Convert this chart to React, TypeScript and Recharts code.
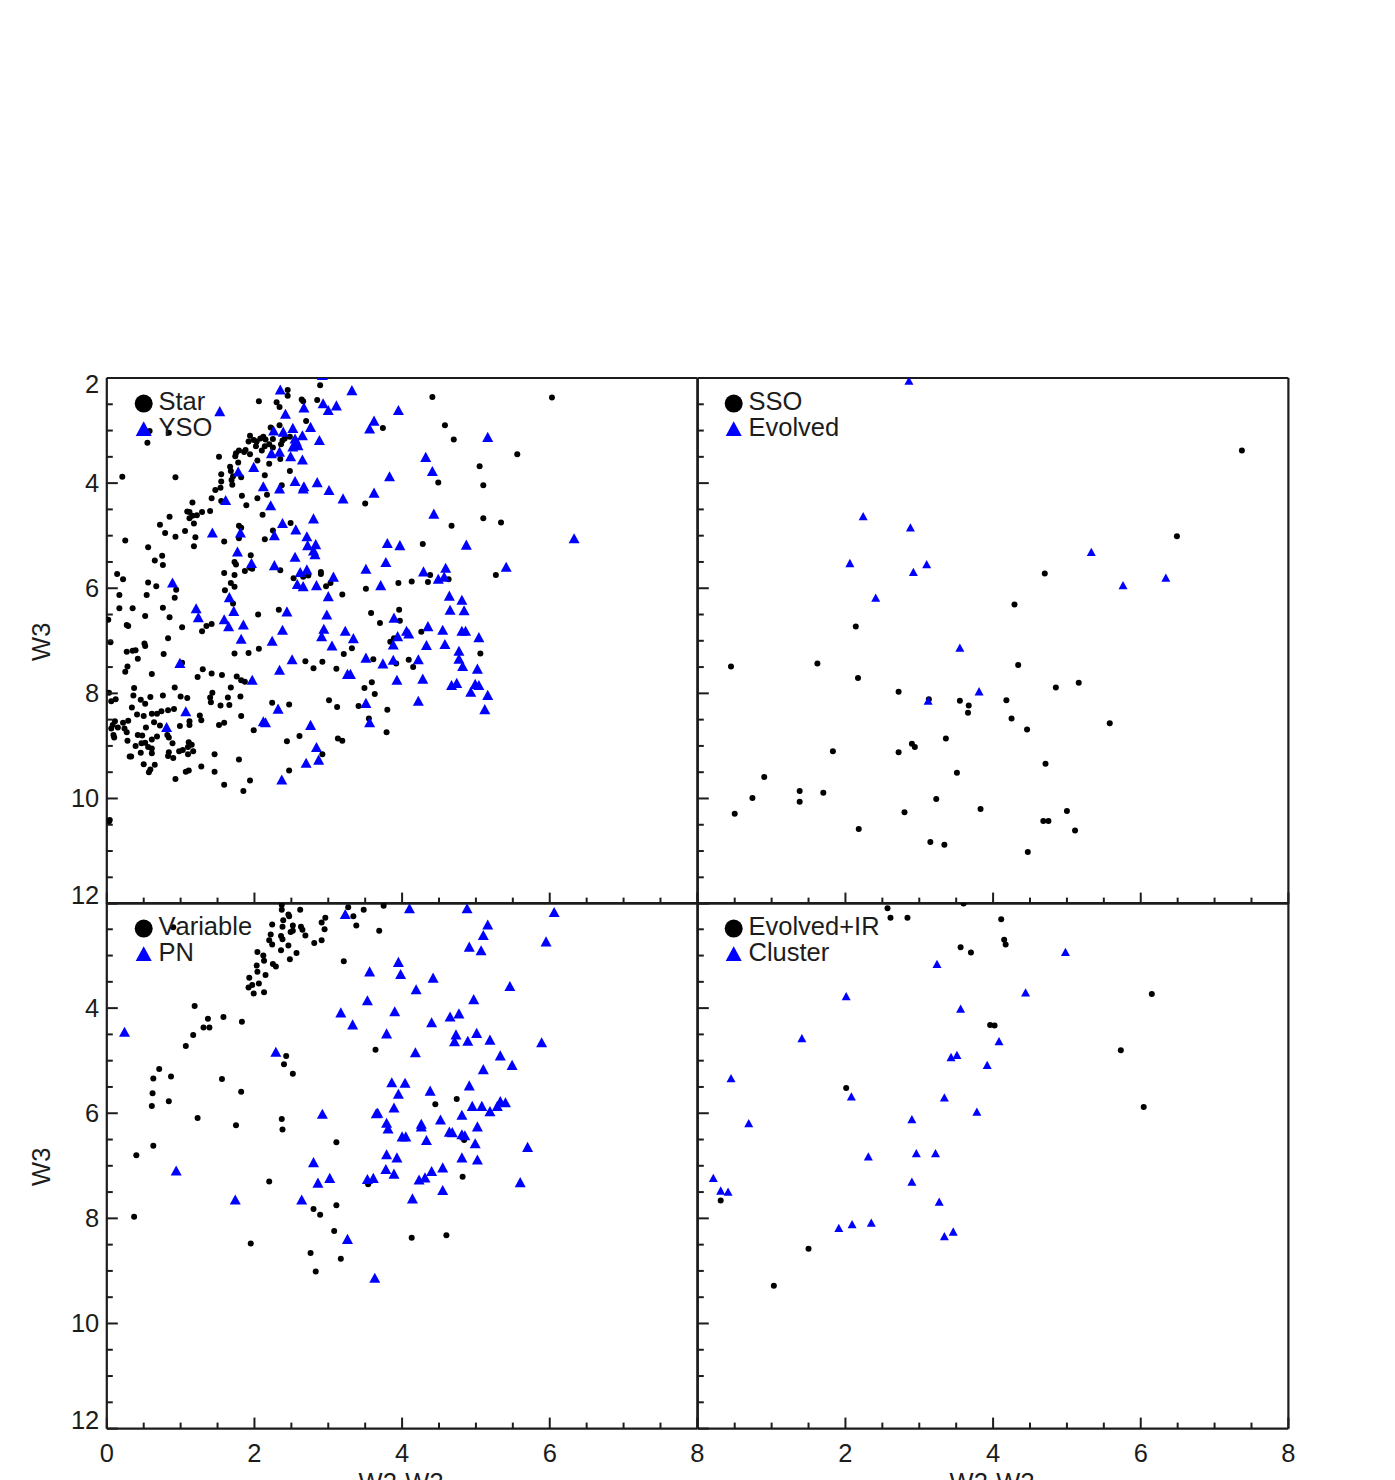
import React from 'react';
import { ScatterChart, Scatter, XAxis, YAxis, Legend } from 'recharts';

type Pt = [number, number];

const xTicks = [0, 0.5, 1, 1.5, 2, 2.5, 3, 3.5, 4, 4.5, 5, 5.5, 6, 6.5, 7, 7.5, 8];
const yTicks = [2, 2.5, 3, 3.5, 4, 4.5, 5, 5.5, 6, 6.5, 7, 7.5, 8, 8.5, 9, 9.5, 10, 10.5, 11, 11.5, 12];

const starPoints: Pt[] = [
  [2.06,2.44],[2.45,2.23],[2.45,2.34],[2.30,2.46],[2.34,2.55],[2.64,2.41],[2.66,2.44],[2.85,2.42],[2.89,2.14],[2.70,2.82],[2.34,2.90],[2.22,2.94],[0.58,3.01],[0.84,3.04],[0.55,3.23],[3.74,2.95],
  [1.94,3.10],[1.92,3.21],[1.99,3.18],[2.03,3.21],[2.02,3.30],[2.08,3.15],[2.12,3.12],[2.15,3.17],[2.14,3.30],[2.20,3.26],[2.25,3.16],[2.10,3.38],[2.38,3.19],[2.36,3.26],[2.41,3.15],[2.48,3.12],[2.25,3.32],[1.88,3.37],[1.86,3.41],[1.79,3.38],[1.75,3.43],[1.74,3.49],[1.94,3.45],[2.04,3.57],[1.78,3.61],[1.52,3.50],[1.67,3.69],[1.68,3.77],[1.55,3.83],[1.82,3.89],[1.71,3.87],[1.69,3.94],[1.55,3.97],[1.70,4.03],[1.54,4.09],[1.47,4.13],[2.20,3.63],[2.35,3.54],[2.48,3.77],[2.14,3.85],[2.37,4.04],[0.21,3.88],[0.93,3.89],[1.42,4.29],[1.55,4.34],[1.16,4.37],[1.83,4.24],[2.04,4.29],[2.17,4.22],[1.89,4.42],[3.50,4.39],[1.40,4.53],[1.29,4.55],[1.09,4.54],[1.12,4.55],[1.22,4.61],[1.16,4.62],[1.12,4.67],[0.85,4.64],[1.18,4.77],[0.72,4.79],[2.11,4.60],[1.79,4.81],[2.49,4.76],[1.82,4.85],[2.25,4.90],[0.79,4.95],[1.06,4.91],[0.93,5.02],[1.20,5.03],[0.25,5.09],[1.59,5.11],[2.14,5.07],[1.79,5.05],[1.18,5.20],[0.56,5.22],[0.75,5.38],[0.65,5.47],[0.76,5.56],[1.95,5.37],[1.73,5.50],[1.75,5.55],[1.94,5.61],[1.97,5.63],[1.87,5.67],[2.35,5.66],[1.59,5.71],[1.73,5.75],[0.14,5.73],[0.22,5.83],[2.53,5.81],[2.66,5.78],[2.73,5.76],[2.90,5.69],[2.90,5.73],[0.56,5.89],[0.67,5.96],[0.94,6.03],[0.17,6.13],[0.54,6.13],[0.92,6.18],[1.68,5.90],[1.73,5.97],[1.60,6.04],[2.97,5.96],[3.03,5.90],[3.19,6.12],[3.51,6.01],[3.95,5.90],[1.71,6.29],[0.17,6.38],[0.35,6.38],[0.76,6.37],[2.33,6.41],[2.05,6.50],[3.58,6.47],[3.70,6.66],[0.52,6.53],[0.85,6.55],[0.02,6.60],[1.02,6.74],[0.27,6.70],[0.29,6.72],[1.42,6.68],[1.35,6.72],[1.29,6.82],[0.83,6.95],
  [0.05,7.03],[0.27,7.21],[0.35,7.19],[0.39,7.18],[0.51,7.05],[0.52,7.10],[0.42,7.34],[0.77,7.25],[0.28,7.49],[0.25,7.59],[0.61,7.63],[1.02,7.42],[1.73,7.24],[1.92,7.23],[2.06,7.15],[3.21,7.25],[3.32,7.14],[3.84,7.02],[3.61,7.35],[2.69,7.39],[2.80,7.52],[2.92,7.40],[3.11,7.53],
  [1.23,7.69],[1.30,7.54],[1.42,7.62],[1.56,7.65],[1.76,7.68],[1.82,7.75],[1.87,7.78],[0.37,7.90],[0.36,8.04],[0.03,7.99],[0.92,7.89],[0.76,8.04],[0.59,8.07],[0.46,8.12],[0.52,8.20],[0.12,8.11],[0.06,8.15],[0.34,8.27],[1.00,8.06],[1.09,8.09],[1.43,7.99],[1.40,8.08],[1.41,8.17],[1.64,8.08],[1.68,7.89],[1.81,8.06],[1.54,8.23],[1.66,8.22],[3.59,7.79],[3.49,7.90],[3.63,8.01],[3.01,8.13],[3.12,8.26],[3.41,8.24],[3.80,8.31],[2.24,8.18],[2.47,8.21],
  [0.41,8.40],[0.50,8.43],[0.61,8.39],[0.68,8.39],[0.74,8.34],[0.83,8.32],[0.91,8.30],[1.26,8.42],[1.28,8.51],[1.82,8.43],[1.12,8.53],[1.12,8.60],[0.99,8.62],[1.52,8.60],[1.59,8.56],[3.55,8.48],[3.79,8.74],
  [0.11,8.53],[0.08,8.60],[0.06,8.67],[0.22,8.56],[0.29,8.52],[0.15,8.65],[0.24,8.67],[0.27,8.74],[0.53,8.65],[0.64,8.55],[0.72,8.61],[0.09,8.79],[0.10,8.84],[0.28,8.90],[0.42,8.79],[0.48,8.80],[0.68,8.82],[0.61,8.88],[0.82,8.79],[0.84,8.84],[0.39,9.00],[0.47,8.95],[0.52,8.94],[0.56,9.02],[0.61,9.05],[0.61,9.14],[0.46,9.13],[0.89,8.95],[1.11,8.93],[1.15,8.98],[1.10,9.02],[1.03,9.08],[0.98,9.10],[0.84,9.12],[0.83,9.19],[0.90,9.23],[1.10,9.16],[1.17,9.10],[0.31,9.20],[0.33,9.20],[0.50,9.35],[0.65,9.36],[0.59,9.45],[0.57,9.50],[1.07,9.49],[1.11,9.47],[1.28,9.39],[1.46,9.49],[1.46,9.16],[1.79,9.26],[0.93,9.63],[1.59,9.74],[1.94,9.66],[1.85,9.86],[1.99,8.70],[2.44,8.91],[2.61,8.81],[3.13,8.86],[3.19,8.90],[2.92,9.16],[2.47,9.47],[0.04,10.41],[0.03,10.44],
  [4.41,2.36],[6.03,2.37],[4.58,2.90],[4.70,3.17],[5.56,3.45],[5.05,3.68],[4.49,3.99],[5.10,4.04],[5.10,4.67],[5.34,4.75],[4.67,4.81],[4.28,5.16],[5.27,5.75],[4.38,5.75],[4.35,5.88],[4.63,5.83],[4.13,5.87],[3.96,6.41],[3.97,6.62],[4.26,6.83],[3.89,6.95],[3.92,7.43],[4.09,7.36],[4.15,7.50],[5.06,7.24],
];

const ysoPoints: Pt[] = [
  [2.35,2.22],[3.32,2.23],[2.92,1.94],[3.59,1.88],[1.53,2.63],[2.42,2.68],[2.67,2.56],[2.93,2.48],[3.00,2.61],[3.11,2.52],[3.62,2.81],[3.56,2.96],[0.50,2.97],[2.26,3.00],[2.39,3.02],[2.52,2.95],[2.76,2.93],[2.65,3.09],[2.88,3.18],[2.55,3.15],[2.57,3.21],[2.52,3.30],[2.59,3.28],[2.23,3.43],[2.34,3.40],[2.49,3.49],[2.65,3.55],[1.99,3.69],[1.78,3.78],[3.83,3.87],[2.55,3.96],[2.85,3.98],[2.67,4.06],[2.66,4.10],[2.34,4.10],[2.12,4.06],[3.01,4.13],[3.62,4.18],[3.20,4.29],[1.61,4.32],[2.22,4.42],[2.80,4.67],[2.38,4.76],[2.56,4.88],[1.43,4.94],[1.81,4.94],[2.27,4.99],[2.71,5.01],[2.83,5.16],[2.72,5.18],[2.80,5.28],[3.80,5.14],[2.82,5.35],[1.77,5.30],[2.55,5.40],[3.78,5.50],[1.96,5.52],[2.27,5.56],[2.71,5.64],[3.51,5.63],[2.62,5.69],[3.07,5.78],[0.89,5.89],[2.58,5.92],[2.66,5.96],[2.84,5.94],[3.71,5.94],[3.00,6.15],[1.66,6.17],[1.21,6.38],[1.72,6.43],[2.44,6.44],[2.98,6.50],[1.24,6.55],[1.59,6.59],[1.85,6.69],[1.65,6.72],[2.38,6.79],[2.94,6.77],[3.23,6.81],[1.82,6.96],[2.24,7.00],[2.91,6.91],[3.34,6.95],
  [3.95,2.61],[5.16,3.12],[4.32,3.50],[4.41,3.77],[4.43,4.58],[3.97,5.18],[4.87,5.17],[6.33,5.05],[5.41,5.59],[4.29,5.68],[4.59,5.61],[4.49,5.82],[4.57,5.78],[4.64,6.14],[4.81,6.22],[4.65,6.41],[4.84,6.42],[3.89,6.56],[4.35,6.72],[4.06,6.81],[4.09,6.86],[4.55,6.79],[4.81,6.81],[4.86,6.81],[5.04,6.93],[3.94,6.91],[3.88,7.07],[4.33,7.08],[4.58,7.06],[4.77,7.19],[4.77,7.34],[4.82,7.48],[5.02,7.53],[4.22,7.35],[3.88,7.36],[3.93,7.74],[4.28,7.72],[4.74,7.80],[4.67,7.84],[4.99,7.82],[5.04,7.84],[4.93,7.97],[5.16,8.03],[4.22,8.14],[5.12,8.30],
  [3.05,7.09],[3.51,7.32],[3.74,7.43],[2.51,7.35],[2.34,7.55],[0.99,7.42],[1.97,7.74],[3.26,7.63],[3.30,7.63],[3.51,8.18],[1.07,8.34],[2.32,8.29],[0.81,8.64],[2.12,8.53],[2.15,8.55],[2.76,8.60],[3.56,8.55],[2.84,9.02],[2.70,9.32],[2.87,9.26],[2.37,9.64],
];

const ssoPoints: Pt[] = [
  [0.45,7.49],[1.62,7.43],[2.14,6.73],[2.17,7.71],[2.72,7.97],[3.13,8.11],[3.55,8.14],[3.67,8.23],[3.66,8.37],[3.36,8.86],[2.90,8.96],[2.94,9.02],[2.72,9.12],[1.83,9.10],[0.90,9.59],[3.51,9.51],[1.38,9.86],[1.70,9.89],[1.38,10.06],[0.74,9.99],[0.50,10.29],[3.23,10.01],[2.80,10.26],[3.83,10.20],[2.18,10.58],[3.15,10.83],[3.34,10.88],
  [7.37,3.38],[6.49,5.01],[4.70,5.72],[4.29,6.31],[4.34,7.46],[5.16,7.80],[4.85,7.89],[4.18,8.13],[4.25,8.48],[4.46,8.69],[5.58,8.57],[4.71,9.34],[5.00,10.24],[4.68,10.43],[4.75,10.43],[5.11,10.61],[4.47,11.02],
];

const evolvedPoints: Pt[] = [
  [2.86,2.05],[2.24,4.63],[2.88,4.84],[2.06,5.52],[3.10,5.54],[2.92,5.69],[2.41,6.18],[3.55,7.13],[3.12,8.14],[3.81,7.96],[5.33,5.31],[5.76,5.94],[6.34,5.80],
];

const variablePoints: Pt[] = [
  [2.37,2.04],[2.37,2.13],[2.62,2.13],[2.46,2.22],[2.47,2.25],[3.27,2.08],[3.34,2.25],[3.48,2.13],[3.75,2.05],[3.38,2.43],[3.69,2.53],[2.39,2.33],[2.24,2.41],[2.38,2.45],[2.52,2.43],[2.49,2.55],[2.52,2.53],[2.63,2.45],[2.65,2.51],[2.69,2.62],[2.91,2.37],[2.96,2.28],[2.95,2.50],[2.91,2.71],[2.81,2.76],[2.22,2.60],[2.20,2.71],[2.24,2.79],[2.36,2.63],[2.38,2.69],[2.46,2.81],[2.36,2.90],[2.57,2.95],[2.48,3.07],[2.04,2.93],[2.12,3.00],[2.13,3.10],[2.03,3.19],[2.04,3.31],[2.25,3.16],[2.29,3.21],[2.15,3.37],[1.93,3.42],[2.06,3.53],[1.97,3.56],[1.92,3.61],[1.99,3.72],[2.13,3.70],[3.21,3.11],[0.90,2.46],
  [1.19,3.96],[1.37,4.20],[1.31,4.37],[1.39,4.37],[1.58,4.17],[1.83,4.26],[1.17,4.51],[1.07,4.72],[3.64,4.79],[2.43,4.91],[2.40,5.07],[2.52,5.25],[0.71,5.16],[0.63,5.34],[0.87,5.30],[1.56,5.35],[0.62,5.62],[1.82,5.59],[0.84,5.77],[0.61,5.86],[1.23,6.09],[1.75,6.23],[2.37,6.11],[2.38,6.31],[3.11,6.55],[0.63,6.62],[0.40,6.80],[2.20,7.30],[3.54,7.35],[3.11,7.75],[2.80,7.82],[2.89,7.93],[0.37,7.97],[3.08,8.24],[1.95,8.48],[2.76,8.66],[3.17,8.77],[2.83,9.01],
  [4.45,5.83],[4.74,5.73],[4.84,6.51],[4.82,7.21],[4.13,8.37],[4.60,8.32],
];

const pnPoints: Pt[] = [
  [3.23,2.21],[0.24,4.45],[2.29,4.83],[0.94,7.09],[1.74,7.64],[2.64,7.64],[2.80,6.93],[2.86,7.32],[3.02,7.23],[2.92,6.01],[3.17,4.08],[3.33,4.31],[3.53,3.85],[3.56,3.30],[3.26,8.39],[3.63,9.13],
  [4.10,2.10],[4.88,2.10],[6.06,2.17],[5.16,2.41],[5.10,2.61],[4.91,2.83],[5.07,2.90],[5.95,2.73],[3.95,3.12],[3.98,3.35],[4.42,3.42],[4.19,3.64],[5.46,3.58],[4.97,3.83],[3.90,4.06],[4.65,4.16],[4.77,4.10],[4.40,4.27],[3.79,4.48],[4.73,4.50],[4.71,4.63],[4.89,4.62],[5.01,4.47],[5.19,4.60],[5.89,4.65],[4.18,4.84],[5.33,4.90],[5.49,5.08],[5.10,5.16],[3.86,5.41],[4.04,5.42],[3.95,5.63],[4.38,5.57],[4.91,5.47],[3.89,5.89],[3.65,6.00],[3.67,5.99],[5.33,5.77],[5.40,5.79],[5.29,5.86],[4.95,5.86],[5.08,5.86],[5.19,5.96],[4.81,6.03],[4.52,6.12],[4.26,6.20],[4.26,6.25],[3.79,6.18],[3.81,6.29],[5.02,6.25],[4.64,6.35],[4.68,6.36],[4.81,6.40],[4.85,6.42],[4.00,6.44],[4.05,6.44],[4.33,6.51],[4.99,6.57],[5.70,6.64],[3.79,6.78],[3.93,6.84],[4.81,6.84],[5.02,6.88],[3.78,7.06],[3.89,7.15],[4.55,7.03],[4.40,7.10],[4.31,7.22],[4.23,7.26],[3.53,7.25],[3.61,7.23],[5.60,7.31],[4.55,7.46],[4.14,7.62],
];

const evolvedIrPoints: Pt[] = [
  [2.57,2.10],[2.61,2.28],[2.84,2.28],[3.60,2.01],[3.56,2.84],[3.70,2.94],[2.01,5.52],[0.31,7.66],[1.50,8.58],[1.03,9.28],
  [4.11,2.31],[4.15,2.70],[4.17,2.79],[3.96,4.32],[4.02,4.33],[5.73,4.80],[6.15,3.73],[6.04,5.88],
];

const clusterPoints: Pt[] = [
  [3.24,3.16],[2.01,3.77],[3.56,4.01],[1.41,4.57],[3.51,4.89],[3.43,4.93],[3.92,5.08],[0.45,5.33],[2.08,5.68],[3.34,5.70],[3.78,5.97],[2.90,6.11],[0.69,6.19],[2.31,6.82],[2.96,6.76],[3.22,6.76],[0.21,7.23],[2.90,7.30],[0.31,7.47],[0.41,7.49],[3.27,7.68],[1.91,8.18],[2.09,8.11],[2.35,8.08],[3.46,8.25],[3.34,8.34],
  [4.98,2.93],[4.44,3.70],[4.08,4.63],
];

const INK = '#1c1c1c';
const BLUE = '#0000ff';
const FONT = '"Liberation Sans", Arial, sans-serif';
const FS = 25.5;

const LEFT = 106.8;
const TOP_H = 20;
const PLOT_W = 590.6;
const PLOT_H = 525.6;
const RIGHT_W = 30;
const BOTTOM_H = 70;

const toData = (pts: Pt[]) => pts.map(([x, y]) => ({ x, y }));
const isMajor = (v: number) => Math.abs(v % 2) < 1e-9;

const Tri = ({ cx, cy, w }: { cx: number; cy: number; w: number }) => {
  const h = w * 0.92;
  return <polygon points={`${cx - w / 2},${cy + h / 2} ${cx + w / 2},${cy + h / 2} ${cx},${cy - h / 2}`} fill={BLUE} />;
};

const makeXTick = (dir: number, labels: number[]) => (p: any) => {
  const v = p.payload.value;
  const len = isMajor(v) ? 11 : 6;
  return (
    <g>
      <line x1={p.x} x2={p.x} y1={p.y} y2={p.y + dir * len} stroke={INK} strokeWidth={2} />
      {labels.includes(v) ? (
        <text x={p.x} y={p.y + 33} textAnchor="middle" fontFamily={FONT} fontSize={FS} fill={INK}>{v}</text>
      ) : null}
    </g>
  );
};

const makeYTick = (dir: number, labels: number[]) => (p: any) => {
  const v = p.payload.value;
  const len = isMajor(v) ? 11 : 6;
  const dy = v === 2 ? 15.5 : v === 12 ? 0 : 9;
  return (
    <g>
      <line x1={p.x} x2={p.x + dir * len} y1={p.y} y2={p.y} stroke={INK} strokeWidth={2} />
      {labels.includes(v) ? (
        <text x={p.x - 7.5} y={p.y + dy} textAnchor="end" fontFamily={FONT} fontSize={FS} fill={INK}>{v}</text>
      ) : null}
    </g>
  );
};

const renderLegend = (props: any) => {
  const items = props.payload || [];
  return (
    <svg width={320} height={70} style={{ display: 'block', overflow: 'visible' }}>
      {items.map((it: any, i: number) => (
        <g key={it.value}>
          {i === 0
            ? <circle cx={36.7} cy={25.6} r={9} fill="#000" />
            : <Tri cx={36.7} cy={50.6} w={16} />}
          <text x={51.5} y={i === 0 ? 31.5 : 57.5} fontFamily={FONT} fontSize={FS} fill={INK} style={{ fontKerning: 'none' }}>{it.value}</text>
        </g>
      ))}
    </svg>
  );
};

type PanelProps = {
  left: number; top: number;
  circles: Pt[]; triangles: Pt[];
  circleName: string; triangleName: string;
  xLabels: number[]; yLabels: number[];
  xTitle: boolean; yTitle: boolean; triW: number;
};

const Panel = ({ left, top, circles, triangles, circleName, triangleName, xLabels, yLabels, xTitle, yTitle, triW }: PanelProps) => (
  <div style={{ position: 'absolute', left, top }}>
    <ScatterChart
      width={LEFT + PLOT_W + RIGHT_W}
      height={TOP_H + PLOT_H + BOTTOM_H}
      margin={{ top: 0, right: 0, bottom: 0, left: 0 }}
      style={{ overflow: 'visible' }}
    >
      <XAxis xAxisId="b" type="number" dataKey="x" orientation="bottom" domain={[0, 8]} ticks={xTicks} interval={0}
        allowDataOverflow height={BOTTOM_H} tickSize={0} tickMargin={0} tickLine={false}
        axisLine={{ stroke: INK, strokeWidth: 2.2 }} tick={makeXTick(-1, xLabels)}
        label={xTitle ? {
          content: () => (
            <text x={LEFT + PLOT_W / 2 - 1} y={TOP_H + PLOT_H + 62} textAnchor="middle" fontFamily={FONT} fontSize={FS} fill={INK}>W2-W3</text>
          ),
        } : undefined}
      />
      <XAxis xAxisId="t" type="number" orientation="top" domain={[0, 8]} ticks={xTicks} interval={0}
        height={TOP_H} tickSize={0} tickMargin={0} tickLine={false}
        axisLine={{ stroke: INK, strokeWidth: 2.2 }} tick={makeXTick(1, [])}
      />
      <YAxis yAxisId="l" type="number" dataKey="y" orientation="left" reversed domain={[2, 12]} ticks={yTicks} interval={0}
        allowDataOverflow width={LEFT} tickSize={0} tickMargin={0} tickLine={false}
        axisLine={{ stroke: INK, strokeWidth: 2.2 }} tick={makeYTick(1, yLabels)}
        label={yTitle ? {
          content: () => (
            <text transform={`translate(50.5 ${TOP_H + PLOT_H / 2 + 1}) rotate(-90)`} textAnchor="middle" fontFamily={FONT} fontSize={FS} fill={INK}>W3</text>
          ),
        } : undefined}
      />
      <YAxis yAxisId="r" type="number" orientation="right" reversed domain={[2, 12]} ticks={yTicks} interval={0}
        width={RIGHT_W} tickSize={0} tickMargin={0} tickLine={false}
        axisLine={{ stroke: INK, strokeWidth: 2.2 }} tick={makeYTick(-1, [])}
      />
      <Legend layout="vertical" align="center" verticalAlign="middle" itemSorter={null} content={renderLegend}
        wrapperStyle={{ left: LEFT, top: TOP_H, width: 320, height: 70, bottom: 'auto', right: 'auto', margin: 0 }} />
      <Scatter name={circleName} data={toData(circles)} xAxisId="b" yAxisId="l" fill="#000" isAnimationActive={false}
        shape={(p: any) => <circle cx={p.cx} cy={p.cy} r={3} fill="#000" />} />
      <Scatter name={triangleName} data={toData(triangles)} xAxisId="b" yAxisId="l" fill={BLUE} isAnimationActive={false}
        shape={(p: any) => <Tri cx={p.cx} cy={p.cy} w={triW} />} />
    </ScatterChart>
  </div>
);

export default function App() {
  const top1 = 377.6 - TOP_H;
  const top2 = top1 + PLOT_H;
  return (
    <div style={{ position: 'absolute', left: 0, top: 0, width: 1395, height: 1480, overflow: 'hidden', background: '#fff' }}>
      <Panel left={0} top={top1} circles={starPoints} triangles={ysoPoints} circleName="Star" triangleName="YSO"
        xLabels={[]} yLabels={[2, 4, 6, 8, 10, 12]} xTitle={false} yTitle triW={11} />
      <Panel left={PLOT_W} top={top1} circles={ssoPoints} triangles={evolvedPoints} circleName="SSO" triangleName="Evolved"
        xLabels={[]} yLabels={[]} xTitle={false} yTitle={false} triW={9} />
      <Panel left={0} top={top2} circles={variablePoints} triangles={pnPoints} circleName="Variable" triangleName="PN"
        xLabels={[0, 2, 4, 6, 8]} yLabels={[4, 6, 8, 10, 12]} xTitle yTitle triW={11} />
      <Panel left={PLOT_W} top={top2} circles={evolvedIrPoints} triangles={clusterPoints} circleName="Evolved+IR" triangleName="Cluster"
        xLabels={[2, 4, 6, 8]} yLabels={[]} xTitle yTitle={false} triW={9} />
    </div>
  );
}
